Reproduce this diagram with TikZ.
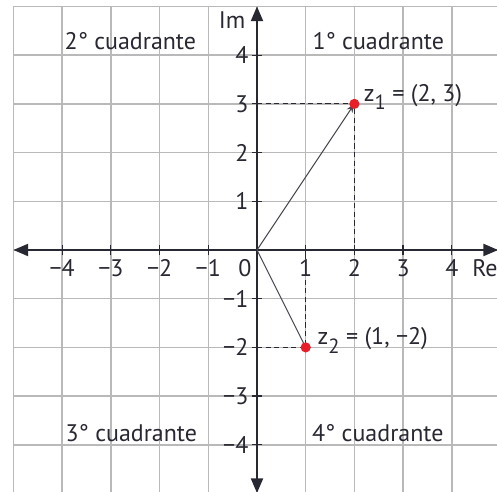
\documentclass[tikz,border=0pt]{standalone}
\usepackage{fontspec}
\setmainfont{PT Sans}
\usetikzlibrary{arrows.meta,positioning,calc}
\definecolor{ink}{RGB}{40,40,50}
\definecolor{gridgray}{RGB}{185,185,185}
\definecolor{ptred}{RGB}{232,30,40}
\newcommand{\subidx}[1]{\raisebox{-0.7ex}{\fontsize{12}{13}\selectfont #1}}
\tikzset{
  lbl/.style={text=ink,font=\fontsize{14}{16}\selectfont,inner sep=0pt},
  axis/.style={draw=ink,line width=0.8pt,{Triangle[length=3mm,width=2.5mm]}-{Triangle[length=3mm,width=2.5mm]}},
  tickmark/.style={draw=ink,line width=0.7pt},
  proj/.style={draw=ink,dash pattern=on 3pt off 2pt,line width=0.6pt},
  vec/.style={draw=ink!85,line width=0.6pt},
  pt/.style={circle,fill=ptred,inner sep=0pt,minimum size=2.1mm},
}
\begin{document}
\begin{tikzpicture}
  \useasboundingbox (-5.277,-4.969) rectangle (4.928,5.133);
  \clip (-5.277,-4.969) rectangle (4.928,5.133);
  \draw[gridgray,line width=0.9pt] (-5,-5) grid (5,5);
  \coordinate (O) at (0,0);
  % axes
  \draw[axis] (-5,0) -- (4.95,0);
  \draw[axis] (0,-4.99) -- (0,5);
  \foreach \i/\t in {-4/−4,-3/−3,-2/−2,-1/−1,1/1,2/2,3/3,4/4}{
    \draw[tickmark] (\i,-0.11) -- (\i,0.11);
    \draw[tickmark] (-0.11,\i) -- (0.11,\i);
    \node[lbl] (x\i) at (\i,-0.37) {\t};
    \node[lbl,anchor=east] (y\i) at (-0.17,\i) {\t};
  }
  \node[lbl] (zero) at (-0.25,-0.37) {0};
  \node[lbl] (re) at (4.68,-0.37) {Re};
  \node[lbl] (im) at (-0.51,4.72) {Im};
  % quadrantes
  \node[lbl] (q2) at (-2.6,4.28) {2° cuadrante};
  \node[lbl] (q1) at (2.49,4.28) {1° cuadrante};
  \node[lbl] (q3) at (-2.58,-3.76) {3° cuadrante};
  \node[lbl] (q4) at (2.48,-3.76) {4° cuadrante};
  % puntos
  \coordinate (P1) at (2,3);
  \coordinate (P2) at (1,-2);
  \draw[proj] (P1 -| O) -- (P1) -- (P1 |- O);
  \draw[proj] (P2 -| O) -- (P2) -- (P2 |- O);
  \draw[vec,-{Stealth[length=1.8mm,width=1.4mm]}] (O) -- (P1);
  \draw[vec] (O) -- (P2);
  \node[pt] (z1) at (P1) {};
  \node[pt] (z2) at (P2) {};
  \node[lbl,anchor=base west] (z1l) at ($(P1)+(0.19,0.05)$) {z\subidx{1} = (2, 3)};
  \node[lbl,anchor=base west] (z2l) at ($(P2)+(0.24,0.05)$) {z\subidx{2} = (1, −2)};
\end{tikzpicture}
\end{document}
